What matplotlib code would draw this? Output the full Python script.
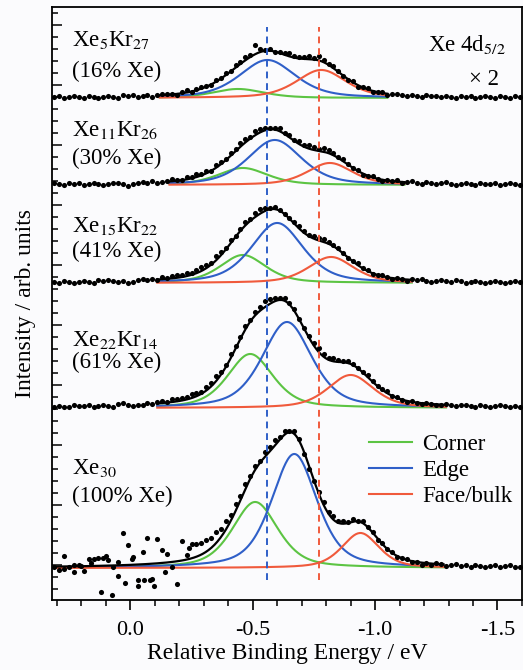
import numpy as np
import matplotlib
matplotlib.use('Agg')
import matplotlib.pyplot as plt
from matplotlib.ticker import MultipleLocator, FixedLocator

plt.rcParams['font.family'] = ['Liberation Serif', 'DejaVu Serif']
plt.rcParams['mathtext.fontset'] = 'stix'

# cluster labels, top panel first
cluster_names = ['Xe$_{5}$Kr$_{27}$', 'Xe$_{11}$Kr$_{26}$', 'Xe$_{15}$Kr$_{22}$',
                 'Xe$_{22}$Kr$_{14}$', 'Xe$_{30}$']
xe_fraction = ['(16% Xe)', '(30% Xe)', '(41% Xe)', '(61% Xe)', '(100% Xe)']

# fitted components (centre / eV, height, fwhm / eV)
corner_center = [-0.44, -0.46, -0.46, -0.49, -0.51]
corner_height = [9, 17, 28, 54, 66]
corner_fwhm = [0.25, 0.24, 0.22, 0.22, 0.22]
edge_center = [-0.56, -0.59, -0.60, -0.64, -0.67]
edge_height = [38, 45, 60, 86, 114]
edge_fwhm = [0.27, 0.26, 0.25, 0.24, 0.22]
face_center = [-0.78, -0.815, -0.82, -0.90, -0.94]
face_height = [28, 22, 26, 33, 35]
face_fwhm = [0.24, 0.22, 0.22, 0.22, 0.18]
lorentz_frac = 0.5

# energy window of each fit
fit_start = [-0.12, -0.16, -0.11, -0.11, 0.31]
fit_end = [-1.05, -1.12, -1.15, -1.29, -1.28]

# reference energies (dashed lines)
ref_energy = [-0.56, -0.77]

# measured points: energy grid and offsets of the dots from the fitted envelope
E_START, E_STEP, N_PTS = 0.31, 0.02, 96
energy = E_START - E_STEP * np.arange(N_PTS)

resid_16 = [0, 1, -1, 0, 1, 0, -1, 1, 0, -1,
            0, 1, 0, -1, 1, 0, 1, -1, 0, 1,
            -1, 0, 1, 1, 0, -1, 1, 2, 0, 1,
            2, 1, -1, 2, 1, 2, 0, 3, 2, 3,
            2, 9, 3, 1, 2, 0, 1, 2, 3, 2,
            1, 2, 3, 2, 4, 2, 1, 2, 1, 0,
            -1, 1, -2, 0, 1, -1, 0, 1, -1, 0,
            1, 0, -1, 1, 0, -1, 1, 0, 0, -1,
            1, 0, -1, 1, 0, 1, -1, 0, 1, 0,
            -1, 1, 0, -1, 1, 0]
resid_30 = [1, 0, -1, 1, 0, 1, -1, 0, 1, 0,
            -1, 0, 1, 0, -1, -3, -1, 0, 1, 0,
            1, -1, 0, 1, 2, 1, 0, 2, 1, 3,
            1, 2, 0, 3, 2, 1, 3, 2, 4, 3,
            2, 4, 3, 2, 1, 2, 3, 1, 2, 1,
            3, 2, 4, 3, 2, 4, 3, 2, 1, 2,
            1, 0, 1, -1, 0, 1, 0, -1, 1, 0,
            2, -1, 0, 1, 0, -1, 1, 0, -1, 0,
            1, 0, -1, 0, 1, 0, -1, 1, 0, 0,
            1, -1, 0, 1, 0, -1]
resid_41 = [0, -1, 1, 0, -1, 0, 1, 0, -1, 1,
            0, 1, 0, -1, 0, -2, -1, 0, 1, 0,
            1, 0, 2, 1, 2, 3, 2, 3, 2, 3,
            4, 3, 2, 4, 3, 2, 3, 1, 2, 3,
            2, 4, 5, 3, 1, 2, 1, 0, 1, 2,
            3, 2, 1, 3, 2, 3, 2, 1, 2, 1,
            0, 1, 2, 0, 1, -1, 0, 1, 0, -1,
            1, 0, -1, 1, 0, 1, 0, -1, 0, 1,
            0, -1, 1, 0, -1, 0, 1, 0, -1, 0,
            1, 0, -1, 0, 1, 0]
resid_61 = [0, 1, 0, -1, 1, 0, 0, 1, -1, 0,
            1, 0, -1, 1, 2, 0, -1, 0, -1, 1,
            0, 1, 2, 1, 3, 2, 3, 2, 4, 3,
            2, 4, 3, 5, 3, 2, 4, 3, 2, 3,
            2, 3, 4, 6, 5, 3, 2, 3, 1, 2,
            0, 1, 2, 3, 4, 3, 2, 3, 2, 1,
            2, 1, 0, 1, 2, 1, 0, 1, 2, 0,
            1, 0, -1, 1, 0, -1, 1, 0, -1, 0,
            1, 0, -1, 0, 1, 0, -1, 1, 0, -1,
            0, 1, 0, -1, 1, 0]
resid_100 = [0, -3, 10, -1, -6, 1, -5, 7, 7, 8,
             8, 6, -2, -11, 32, 20, 8, -21, 12, 26,
             -15, 24, 13, 8, -5, -23, 20, 5, 14, 13,
             12, 12, 10, 11, 8, 9, 6, 7, 4, 5,
             3, 4, 2, 5, 4, 6, 3, 4, 1, 3,
             2, -2, -3, -1, 2, 3, 2, 4, 2, 3,
             1, 3, 0, 2, 0, 1, -1, 1, 0, 1,
             -1, 0, 1, -1, 0, -2, 0, -1, 1, 0,
             -1, 0, 1, -1, 0, -1, 1, 0, -1, 0,
             1, -1, 0, 1, -1, 0]
residuals = [resid_16, resid_30, resid_41, resid_61, resid_100]

# scattered extra points of the Xe30 spectrum (energy, offset above baseline)
xe30_extra_e = [0.27, 0.12, 0.075, 0.10, 0.02, -0.03, -0.055, -0.08, -0.095, 0.20, 0.16, -0.24,
                0.23, 0.05, -0.005, -0.14]
xe30_extra_y = [-1, -24, -27, 12, -15, -12, -12, -12, -18, 2, 5, 20,
                3, 6, 9, -4]

# layout
baselines = [502, 415, 317, 192, 32]
name_y = [0.944, 0.793, 0.631, 0.438, 0.223]
frac_y = [0.892, 0.745, 0.587, 0.400, 0.174]
GREEN, BLUE, RED = '#5cc443', '#2f5fc8', '#f05a3c'
FS = 16.5


def peak(e, center, height, fwhm):
    u = 4 * (e - center) ** 2 / fwhm ** 2
    return height * ((1 - lorentz_frac) * np.exp(-np.log(2) * u) + lorentz_frac / (1 + u))


fig = plt.figure(figsize=(5.23, 6.70), dpi=100, facecolor='#fbfbfd')
ax = fig.add_axes([0.0994, 0.1045, 0.8986, 0.8851])
ax.set_facecolor('#fbfbfd')

handles = []
for k in range(5):
    base = baselines[k]
    comps = [(corner_center[k], corner_height[k], corner_fwhm[k], GREEN),
             (edge_center[k], edge_height[k], edge_fwhm[k], BLUE),
             (face_center[k], face_height[k], face_fwhm[k], RED)]
    e_fit = np.linspace(fit_start[k], fit_end[k], 400)
    total = np.zeros_like(e_fit)
    handles = []
    for c, h, w, col in comps:
        y = peak(e_fit, c, h, w)
        total += y
        ln, = ax.plot(e_fit, base + y, color=col, lw=1.5, zorder=2)
        handles.append(ln)

    env = sum(peak(energy, c, h, w) for c, h, w, _ in comps)
    ax.plot(energy, base + env + np.array(residuals[k]), 'o', color='black', ms=3.7,
            mew=0, zorder=3)
    ax.plot(e_fit, base + total, color='black', lw=1.6, zorder=4)

    ax.text(0.042, name_y[k], cluster_names[k], transform=ax.transAxes, fontsize=FS,
            va='center', ha='left')
    ax.text(0.042, frac_y[k], xe_fraction[k], transform=ax.transAxes, fontsize=FS,
            va='center', ha='left')

ax.plot(xe30_extra_e, baselines[4] + np.array(xe30_extra_y), 'o', color='black', ms=3.7,
        mew=0, zorder=3)

for e0, col in zip(ref_energy, [BLUE, RED]):
    ax.axvline(e0, ymin=0.034, ymax=0.966, color=col, lw=1.4, ls=(0, (3.5, 2.5)), zorder=5)

ax.text(0.966, 0.936, 'Xe 4d$_{5/2}$', transform=ax.transAxes, fontsize=FS, ha='right', va='center')
ax.text(0.951, 0.877, '× 2', transform=ax.transAxes, fontsize=FS, ha='right', va='center')

ax.legend(handles, ['Corner', 'Edge', 'Face/bulk'], loc='upper left',
          bbox_to_anchor=(0.63, 0.315), frameon=False, fontsize=FS,
          handlelength=1.9, labelspacing=0.22, handletextpad=0.45)

ax.set_xlim(0.32, -1.6)
ax.set_ylim(0, 593)
ax.xaxis.set_major_locator(FixedLocator([0.0, -0.5, -1.0, -1.5]))
ax.set_xticklabels(['0.0', '-0.5', '-1.0', '-1.5'])
ax.xaxis.set_minor_locator(MultipleLocator(0.1))
ax.yaxis.set_major_locator(FixedLocator(np.arange(35, 593, 60)))
ax.yaxis.set_minor_locator(FixedLocator(np.arange(11, 593, 12)))
ax.set_yticklabels([])
ax.tick_params(axis='x', which='major', direction='out', length=7, width=1.2, labelsize=16, pad=8)
ax.tick_params(axis='x', which='minor', direction='out', length=4.5, width=1.1)
ax.tick_params(axis='y', which='major', direction='in', length=7, width=1.1)
ax.tick_params(axis='y', which='minor', direction='in', length=4, width=1.1)
for s in ax.spines.values():
    s.set_linewidth(1.3)

ax.set_xlabel('Relative Binding Energy / eV', fontsize=17, labelpad=2)
ax.set_ylabel('Intensity / arb. units', fontsize=17, labelpad=8)

fig.savefig('out.png', dpi=100, facecolor=fig.get_facecolor())
